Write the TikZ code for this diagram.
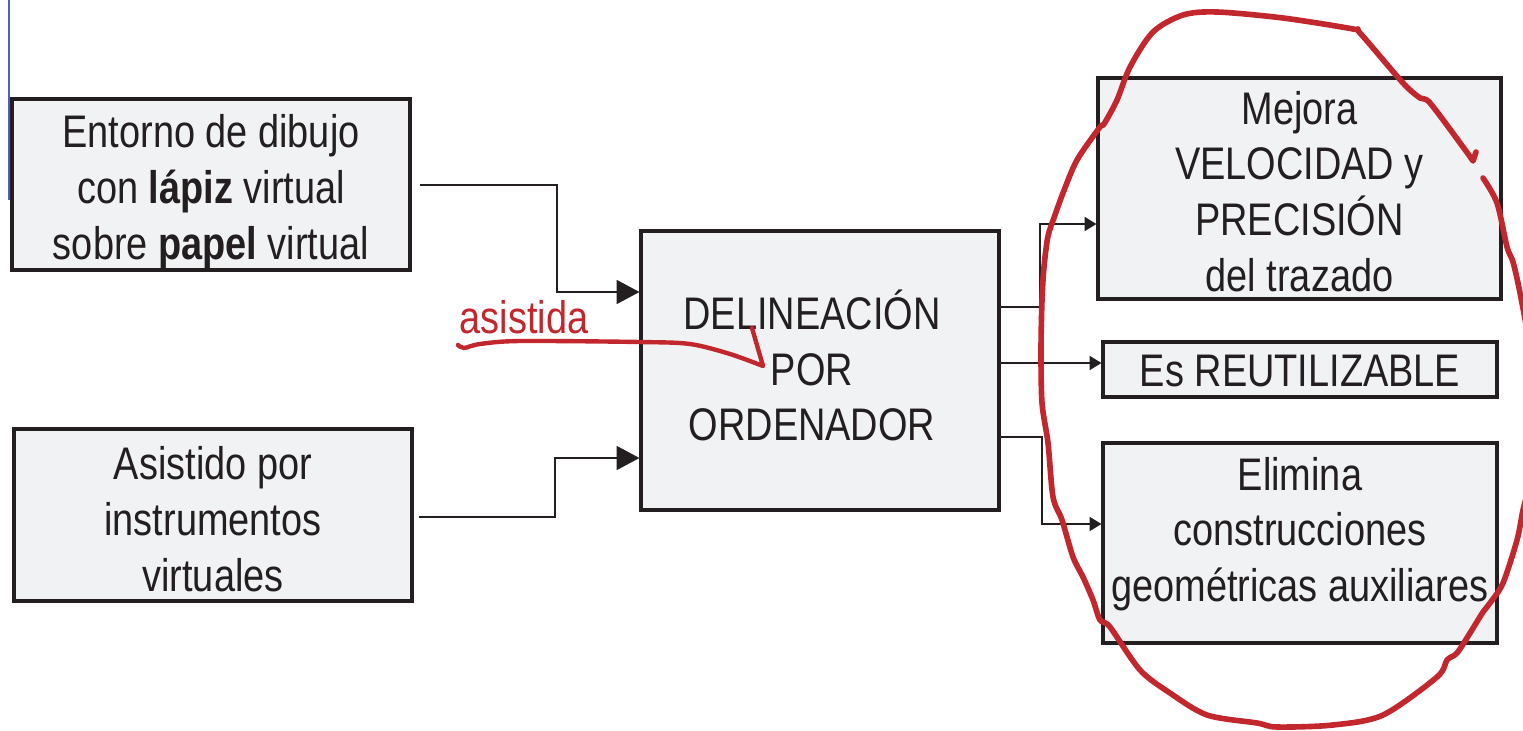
\documentclass[tikz,border=0pt]{standalone}
\usepackage{fontspec}
\setmainfont[FakeStretch=0.83]{Liberation Sans}
\usetikzlibrary{arrows.meta}
\definecolor{ink}{HTML}{231F20}
\definecolor{boxfill}{HTML}{F1F2F4}
\definecolor{redpen}{HTML}{C1272D}
\definecolor{blueline}{HTML}{4A5FC1}
\begin{document}
\begin{tikzpicture}[x=0.02cm,y=-0.02cm,
  box/.style={draw=ink, line width=1.8pt, fill=boxfill, inner sep=0pt},
  txt/.style={inner sep=0pt, align=center, text=ink, font=\fontsize{26}{31.75}\selectfont},
  conn/.style={draw=ink, line width=1.1pt},
  bigtip/.style={-{Triangle[length=13pt,width=13.6pt]}},
  smalltip/.style={-{Triangle[length=6.8pt,width=8pt]}},
  pen/.style={draw=redpen, line width=3.2pt, line cap=round, line join=round}]
\useasboundingbox (0,0) rectangle (1523,730);

% boxes
\node[box, minimum width=7.96cm, minimum height=3.42cm] (A) at (211,184.5) {};
\node[box, minimum width=7.96cm, minimum height=3.44cm] (B) at (213,515) {};
\node[box, minimum width=7.16cm, minimum height=5.58cm] (C) at (820,370.5) {};
\node[box, minimum width=8.06cm, minimum height=4.42cm] (R1) at (1299.5,188.5) {};
\node[box, minimum width=7.88cm, minimum height=1.1cm] (R2) at (1300,369.5) {};
\node[box, minimum width=7.88cm, minimum height=4cm] (R3) at (1300,543) {};

% thin blue line at the left
\draw[blueline, line width=1pt] (9,0) -- (9,200);

% box texts
\node[txt] (At) at (211,191.5) {Entorno de dibujo\\con \textbf{lápiz} virtual\\sobre \textbf{papel} virtual};
\node[txt] (Bt) at (213,519) {Asistido por\\instrumentos\\virtuales};
\node[txt] (Ct) at (812,365.5) {DELINEACIÓN\\POR\\ORDENADOR};
\node[txt] (R1t) at (1299.5,191.5) {Mejora\\VELOCIDAD y\\PRECISIÓN\\del trazado};
\node[txt] (R2t) at (1300,371.5) {Es REUTILIZABLE};
\node[txt] (R3t) at (1300,534) {Elimina\\construcciones\\geométricas auxiliares};

% junction coordinates
\coordinate (j1) at (557,185);
\coordinate (j2) at (557,292);
\coordinate (j3) at (555,517);
\coordinate (j4) at (555,458);
\coordinate (m1) at (1000,307);
\coordinate (k1) at (1040,307);
\coordinate (k2) at (1040,224);
\coordinate (m2) at (1000,363);
\coordinate (m3) at (1000,437);
\coordinate (k3) at (1042,437);
\coordinate (k4) at (1042,524);

% connectors
\draw[conn, bigtip, shorten <=5pt] (A.east |- j1) -- (j1) -- (j2) -- (C.west |- j2);
\draw[conn, bigtip, shorten <=3pt] (B.east |- j3) -- (j3) -- (j4) -- (C.west |- j4);
\draw[conn, smalltip] (C.east |- m1) -- (k1) -- (k2) -- (R1.west |- k2);
\draw[conn, smalltip] (C.east |- m2) -- (R2.west |- m2);
\draw[conn, smalltip] (C.east |- m3) -- (k3) -- (k4) -- (R3.west |- k4);

% red handwriting
\node[text=redpen, font=\fontsize{26}{31.75}\selectfont, anchor=base, inner sep=0pt] (asis) at (524,333) {asistida};
\draw[pen, line width=2.5pt] plot[smooth, tension=0.5] coordinates {(458,345) (464,348) (480,344) (520,341) (640,342) (690,344) (730,354) (763,366)} -- (752,328);

\begin{scope}
\clip (0,0) rectangle (1523,730);
\draw[pen] plot[smooth, tension=0.5] coordinates {
  (1483,178) (1497,203) (1507,247) (1513,262) (1520,293) (1530,350) (1535,420) (1530,480) (1523,510)
  (1517,540) (1503,583) (1490,603) (1483,612) (1470,633) (1457,653) (1447,660) (1437,677)
  (1383,715) (1333,725) (1277,727) (1257,723) (1207,715) (1170,693) (1140,670) (1110,627)
  (1100,620) (1093,600) (1083,577) (1073,557) (1062,520) (1053,497) (1048,443) (1042,403)
  (1041,350) (1042,300) (1044,267) (1048,236) (1055,215) (1063,193) (1077,160) (1100,127)
  (1104,124) (1117,100) (1130,67) (1153,32) (1183,15) (1217,12) (1283,18) (1353,29) (1360,33)
  (1403,83) (1420,98) (1430,103) (1463,147) (1473,161)} -- (1476,152);
\end{scope}
\end{tikzpicture}
\end{document}
